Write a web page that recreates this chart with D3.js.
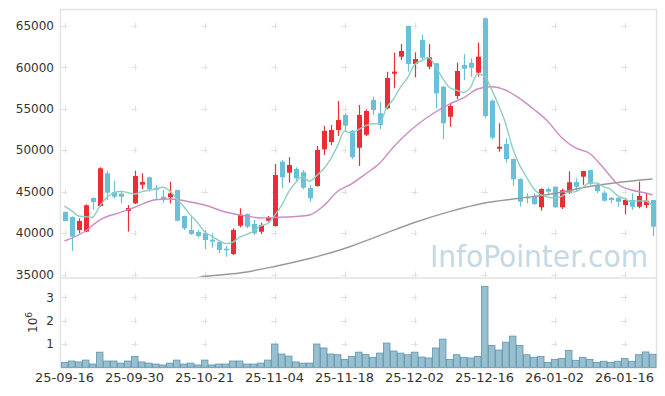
<!DOCTYPE html>
<html><head><meta charset="utf-8">
<script src="https://cdn.jsdelivr.net/npm/d3@7"></script>
<style>body{margin:0;background:#fff}svg{display:block}</style>
</head><body>
<svg id="c" width="665" height="396"></svg>
<script>
const dates = [
 "25-09-16","25-09-17","25-09-18","25-09-19","25-09-22","25-09-23","25-09-24","25-09-25","25-09-26","25-09-29",
 "25-09-30","25-10-01","25-10-02","25-10-10","25-10-13","25-10-14","25-10-15","25-10-16","25-10-17","25-10-20",
 "25-10-21","25-10-22","25-10-23","25-10-24","25-10-27","25-10-28","25-10-29","25-10-30","25-10-31","25-11-03",
 "25-11-04","25-11-05","25-11-06","25-11-07","25-11-10","25-11-11","25-11-12","25-11-13","25-11-14","25-11-17",
 "25-11-18","25-11-19","25-11-20","25-11-21","25-11-24","25-11-25","25-11-26","25-11-27","25-11-28","25-12-01",
 "25-12-02","25-12-03","25-12-04","25-12-05","25-12-08","25-12-09","25-12-10","25-12-11","25-12-12","25-12-15",
 "25-12-16","25-12-17","25-12-18","25-12-19","25-12-22","25-12-23","25-12-24","25-12-26","25-12-29","25-12-30",
 "26-01-02","26-01-05","26-01-06","26-01-07","26-01-08","26-01-09","26-01-12","26-01-13","26-01-14","26-01-15",
 "26-01-16","26-01-19","26-01-20","26-01-21","26-01-22"];
const open = [42540,41940,40370,40180,44230,43260,47210,44950,44750,42660,
 43590,45830,46720,45470,44380,44310,45190,42060,40370,40130,
 39970,39200,38920,38110,37470,40890,42300,41090,40160,41490,
 40850,48610,47280,47730,47330,45430,45670,50100,50980,52430,
 54240,52340,50290,51860,56050,54440,55050,59220,61270,64970,
 60390,63280,60060,60470,57650,54030,56530,60270,60540,59340,
 65900,55960,50170,50740,48930,46520,44380,44510,43110,45310,
 45590,43110,44870,46160,46800,47600,45800,44870,44260,44260,
 43380,43990,43180,43380,43990];
const high = [42600,42000,41780,43450,44300,47930,47520,46310,44990,43380,
 47520,47210,46800,45800,45190,46190,45250,42100,41970,40370,
 40370,39970,39160,38440,40570,42990,42350,41570,41250,42060,
 48330,48810,49140,47930,47600,45800,50500,52910,53030,55930,
 54440,52430,55440,54920,56440,55840,59460,61750,62800,65000,
 61800,63890,62800,60540,57740,55720,60540,61590,61080,62960,
 66000,56130,53240,51430,49000,46600,44790,44790,45390,45520,
 45600,45350,47450,46600,47520,47650,45850,45100,44300,44300,
 44260,44790,46190,44870,44000];
const low = [41400,37840,39970,40100,42780,43180,43990,44190,43590,40180,
 43500,45280,45000,43990,43660,43590,41400,40370,39770,39490,
 38040,38230,37560,37150,37350,40690,40600,39770,39890,41370,
 40770,45400,46070,46190,45280,43780,45590,49410,50620,51710,
 52220,48900,48090,51710,54240,52510,54930,57460,60870,59460,
 58780,60870,59750,55050,51310,52830,56130,58460,58860,58860,
 53840,51310,49810,48490,45670,43180,43590,43380,42700,44590,
 43050,42900,44710,44990,45800,45800,44830,43780,43590,43180,
 42260,42780,42990,42990,39640];
const close = [41450,39560,41460,43350,43750,47810,44870,44380,44380,43020,
 46880,46160,45280,45230,44070,44790,41490,40570,39890,39650,
 39160,38960,37960,37920,40370,42210,40770,39970,40970,41820,
 47000,46720,48210,46600,45470,44190,50020,52310,52430,53630,
 52950,49140,54240,54720,54840,53030,58700,59460,61960,60390,
 60990,61150,61200,56850,53240,55320,59540,59820,59940,61270,
 54120,51500,50410,48930,46480,43780,44190,43500,45310,44990,
 43110,45160,46120,45590,47480,45920,45070,43900,43990,43780,
 43990,43180,44470,43900,40770];
const volume = [0.21,0.27,0.23,0.31,0.14,0.65,0.27,0.27,0.18,0.27,
 0.47,0.23,0.18,0.14,0.10,0.18,0.31,0.14,0.18,0.10,
 0.31,0.10,0.14,0.14,0.27,0.27,0.14,0.14,0.18,0.31,
 1.00,0.57,0.48,0.23,0.18,0.18,1.00,0.83,0.57,0.54,
 0.34,0.47,0.65,0.55,0.43,0.61,1.04,0.70,0.61,0.54,
 0.65,0.44,0.40,0.83,1.21,0.34,0.54,0.43,0.40,0.47,
 3.48,0.94,0.74,1.08,1.34,0.94,0.54,0.43,0.47,0.21,
 0.34,0.38,0.73,0.30,0.43,0.34,0.21,0.26,0.21,0.26,
 0.38,0.26,0.54,0.66,0.56];
// MA5 values before a full 5-day window is available
const ma5Lead = [43260,42700,42060,41970];
// MA20 at these candle indices
const ma20Idx = [0,3,5,8,10,13,15,18,20,23,26,28,30,33,35,37,39,41,43,45,47,49,51,53,55,57,59,61,63,65,67,69,71,73,75,77,79,81,83,84];
const ma20Val = [39040,40250,41570,42490,43100,44020,44110,43750,43380,42540,42060,41820,41880,42000,42180,43260,45010,45920,47120,48410,50380,52070,53450,54600,55560,56290,57370,57650,57250,56250,54960,53510,51520,50260,49620,47850,45920,45190,44830,44590];
// long moving average
const maLongIdx = [17,20,25,30,35,40,45,50,55,60,65,70,75,80,84];
const maLongVal = [34300,34760,35180,35970,36930,38140,39700,41270,42580,43620,44190,44770,45610,46180,46520];
const priceTicks = [35000,40000,45000,50000,55000,60000,65000];
const volTicks = [1,2,3];
const xTickIdx = [0,10,20,30,40,50,60,70,80];

const svg = d3.select("#c");
const L = 61, R = 656, PT = 10, PB = 277, VT = 279, VB = 367.3;
const x = d3.scaleBand().domain(d3.range(dates.length)).range([L, R]).padding(0);
const cx = i => x(i) + x.bandwidth() / 2;
const y = d3.scaleLinear().domain([34700, 66900]).range([PB, PT]);
const yv = d3.scaleLinear().domain([0, 3.75]).range([VB, VT + 1]);

const RED = "#ec2d34", BLUE = "#69c0d8";

// frame
const frame = svg.append("g").attr("stroke", "#e2e2e2").attr("fill", "none");
frame.append("rect").attr("x", L - 0.5).attr("y", PT - 0.5).attr("width", R - L + 1).attr("height", VB - PT + 1).attr("stroke-width", 1.5);
frame.append("line").attr("x1", L).attr("x2", R).attr("y1", PB + 1).attr("y2", PB + 1).attr("stroke-width", 1.5);

// grid crosses
const crosses = [];
xTickIdx.forEach(i => {
  priceTicks.forEach(p => crosses.push([cx(i), y(p)]));
  volTicks.forEach(v => crosses.push([cx(i), yv(v)]));
});
svg.append("g").attr("stroke", "#e0e0e0").attr("stroke-width", 1)
  .selectAll("path").data(crosses).join("path")
  .attr("d", d => `M${d[0]-3},${Math.round(d[1])+0.5}h6M${Math.round(d[0])+0.5},${d[1]-3}v6`);

// watermark
svg.append("text").attr("x", 430).attr("y", 267)
  .attr("font-family", "DejaVu Sans, sans-serif").attr("font-size", 30)
  .attr("textLength", 218).attr("lengthAdjust", "spacingAndGlyphs")
  .attr("fill", "#c5d8e4").text("InfoPointer.com");

// clip for price panel
svg.append("clipPath").attr("id", "pc").append("rect")
  .attr("x", L).attr("y", PT).attr("width", R - L).attr("height", PB - PT);

// volume bars
svg.append("g").selectAll("rect").data(volume).join("rect")
  .attr("x", (d, i) => x(i) + 0.5).attr("width", x.bandwidth() - 0.5)
  .attr("y", d => yv(d)).attr("height", d => VB - yv(d))
  .attr("fill", "#97bfd0").attr("stroke", "#5f93ab").attr("stroke-width", 0.8);

// candles
const cg = svg.append("g").attr("clip-path", "url(#pc)");
const idx = d3.range(dates.length);
cg.selectAll("line.w").data(idx).join("line")
  .attr("x1", i => Math.round(cx(i)) + 0.5).attr("x2", i => Math.round(cx(i)) + 0.5)
  .attr("y1", i => y(high[i])).attr("y2", i => y(low[i]))
  .attr("stroke", i => close[i] >= open[i] ? RED : BLUE).attr("stroke-width", 1.2);
cg.selectAll("rect.b").data(idx).join("rect")
  .attr("x", i => Math.round(cx(i)) - 2)
  .attr("width", 5)
  .attr("y", i => y(Math.max(open[i], close[i])))
  .attr("height", i => Math.max(1.5, Math.abs(y(open[i]) - y(close[i]))))
  .attr("fill", i => close[i] >= open[i] ? RED : BLUE);

// moving averages
const ma5 = idx.map(i => i < 4 ? ma5Lead[i] : d3.mean(close.slice(i - 4, i + 1)));
const line = d3.line().curve(d3.curveMonotoneX);
const lg = svg.append("g").attr("clip-path", "url(#pc)").attr("fill", "none");
lg.append("path").attr("d", line(maLongIdx.map((k, j) => [cx(k), y(maLongVal[j])])))
  .attr("stroke", "#999").attr("stroke-width", 1.4);
lg.append("path").attr("d", line(ma20Idx.map((k, j) => [cx(k), y(ma20Val[j])])))
  .attr("stroke", "#cc8cc4").attr("stroke-width", 1.4);
lg.append("path").attr("d", line(ma5.map((v, i) => [cx(i), y(v)])))
  .attr("stroke", "#8ecfbf").attr("stroke-width", 1.4);

// axes
const font = "DejaVu Sans, sans-serif";
const ya = svg.append("g").attr("transform", `translate(${L - 4},0)`)
  .call(d3.axisLeft(y).tickValues(priceTicks).tickSize(0).tickFormat(d3.format("d")));
ya.select(".domain").remove();
ya.selectAll("text").attr("font-family", font).attr("font-size", 12).attr("fill", "#333");
const va = svg.append("g").attr("transform", `translate(${L - 4},0)`)
  .call(d3.axisLeft(yv).tickValues(volTicks).tickSize(0).tickFormat(d3.format("d")));
va.select(".domain").remove();
va.selectAll("text").attr("font-family", font).attr("font-size", 12).attr("fill", "#333");
const xa = svg.append("g").attr("transform", `translate(0,${VB + 2})`)
  .call(d3.axisBottom(x).tickValues(xTickIdx).tickSize(0).tickFormat(i => dates[i]));
xa.select(".domain").remove();
xa.selectAll("text").attr("font-family", font).attr("font-size", 13).attr("fill", "#333");

// 10^6 unit label
const ul = svg.append("text").attr("transform", "translate(37,333) rotate(-90)")
  .attr("font-family", font).attr("font-size", 12).attr("fill", "#333");
ul.append("tspan").text("10");
ul.append("tspan").attr("dy", -5).attr("font-size", 9).text("6");
</script>
</body></html>
